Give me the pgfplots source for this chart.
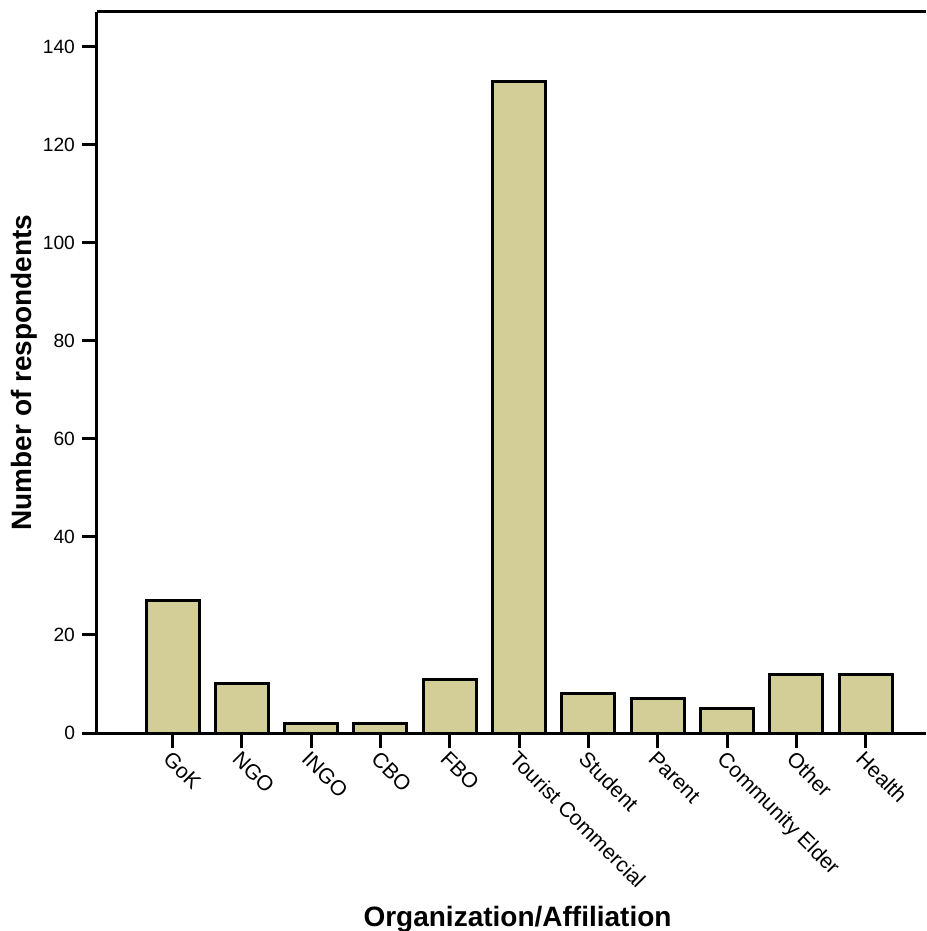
\documentclass[border=0pt]{standalone}
\usepackage{pgfplots}
\pgfplotsset{compat=1.18}
\usepackage{fontspec}
\setmainfont{Liberation Sans}
\definecolor{barfill}{RGB}{211,206,151}
\begin{document}
\begin{tikzpicture}
\begin{axis}[
  name=ax,
  scale only axis,
  width=414.5pt, height=360.5pt,
  xmin=-1.09, xmax=10.87,
  ymin=0, ymax=147.1,
  axis x line*=box,
  axis y line*=left,
  axis line style={line width=1.5pt},
  xtick pos=lower, ytick pos=left,
  tick align=outside,
  major tick length=7.5pt,
  tick style={line width=1.5pt, black},
  xtick={0,...,10},
  xticklabels={GoK,NGO,INGO,CBO,FBO,Tourist Commercial,Student,Parent,Community Elder,Other,Health},
  /pgf/number format/assume math mode=true,
  y tick label style={font=\fontsize{9.6}{11}\selectfont},
  x tick label style={rotate=-45, anchor=north west, inner sep=0.5pt, font=\fontsize{10.6}{12}\selectfont},
  ytick={0,20,...,140},
  minor tick num=0,
  xlabel={Organization/Affiliation},
  ylabel={Number of respondents},
  label style={font=\fontsize{14}{16}\selectfont\bfseries},
  xlabel style={at={(axis description cs:0.5,0)}, anchor=north, xshift=3pt, yshift=-86.5pt, inner sep=0pt},
  ylabel style={at={(axis description cs:0,0.5)}, anchor=center, yshift=36.5pt, inner sep=0pt},
  ybar, bar width=26.5pt,
]
\addplot[fill=barfill, draw=black, line width=1.5pt] coordinates {
  (0,27) (1,10) (2,2) (3,2) (4,11) (5,133) (6,8) (7,7) (8,5) (9,12) (10,12)
};
\end{axis}
\pgfresetboundingbox
\path[use as bounding box] ([shift={(-48.5pt,-99pt)}]ax.south west) rectangle ([shift={(0pt,6pt)}]ax.north east);
\end{tikzpicture}
\end{document}
